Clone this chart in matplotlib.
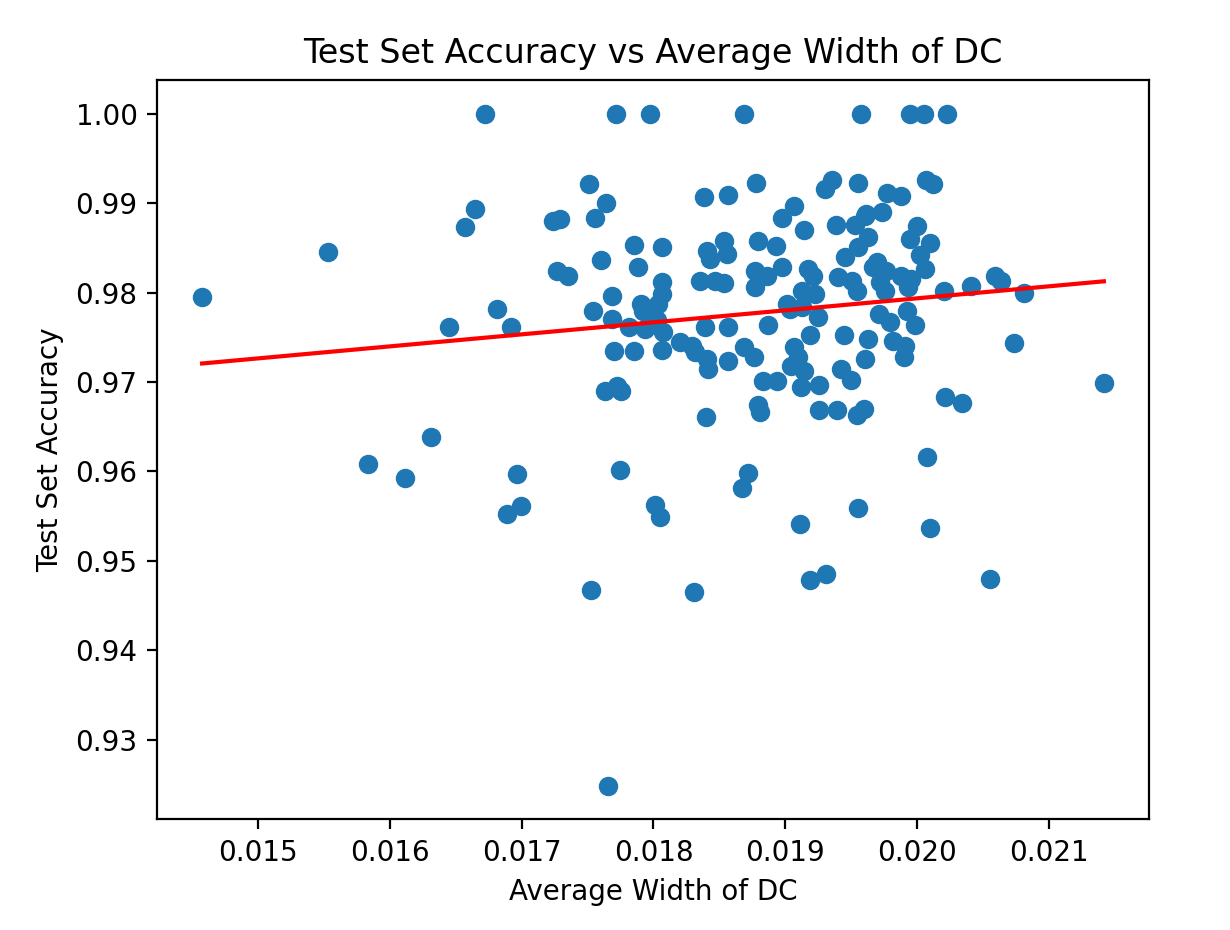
import numpy as np
import matplotlib
matplotlib.use("Agg")
import matplotlib.pyplot as plt

# average width of DC per run
avg_width = [
    0.014576, 0.015528, 0.015831, 0.016119, 0.016316, 0.016447, 0.016573, 0.016649,
    0.016725, 0.016813, 0.016922, 0.016965, 0.016998, 0.016892, 0.017235, 0.017293,
    0.017268, 0.017348, 0.017513, 0.017558, 0.017639, 0.017601, 0.017528, 0.017545,
    0.017684, 0.017684, 0.017697, 0.017652, 0.017634, 0.017722, 0.017755, 0.017743,
    0.017715, 0.017854, 0.017879, 0.017856, 0.017811, 0.017937, 0.017907, 0.017924,
    0.017970, 0.018008, 0.018051, 0.018063, 0.018063, 0.018063, 0.018038, 0.018030,
    0.018070, 0.018066, 0.018202, 0.018290, 0.018316, 0.018404, 0.018417, 0.018399,
    0.018311, 0.018391, 0.018563, 0.018871, 0.018563, 0.018690, 0.018765, 0.018833,
    0.018934, 0.018795, 0.018808, 0.018720, 0.018669, 0.018687, 0.018778, 0.018386,
    0.018563, 0.018404, 0.018538, 0.018556, 0.018430, 0.018353, 0.018467, 0.018538,
    0.018795, 0.018927, 0.018972, 0.018770, 0.018770, 0.018858, 0.019066, 0.018972,
    0.019145, 0.019351, 0.019301, 0.019548, 0.019384, 0.019528, 0.019611, 0.019169,
    0.019212, 0.019124, 0.019225, 0.019010, 0.019250, 0.019452, 0.019553, 0.019629,
    0.019503, 0.019402, 0.019541, 0.019667, 0.019035, 0.019124, 0.019187, 0.019445,
    0.019629, 0.019604, 0.019066, 0.019041, 0.019142, 0.019117, 0.019255, 0.019098,
    0.019422, 0.019498, 0.019255, 0.019389, 0.019541, 0.019598, 0.019111, 0.019548,
    0.019187, 0.019308, 0.019578, 0.019945, 0.020053, 0.020230, 0.020071, 0.020121,
    0.019775, 0.019881, 0.019730, 0.019604, 0.020002, 0.019945, 0.020096, 0.020020,
    0.019699, 0.020058, 0.019767, 0.019881, 0.019957, 0.019717, 0.019755, 0.019932,
    0.020205, 0.020412, 0.020589, 0.020639, 0.020811, 0.019710, 0.019920, 0.019793,
    0.019982, 0.019818, 0.019907, 0.019902, 0.020214, 0.020341, 0.020732, 0.021417,
    0.020078, 0.020096, 0.020551,
]

# test set accuracy per run
test_acc = [
    0.97946, 0.98457, 0.96087, 0.95923, 0.96384, 0.97612, 0.98728, 0.98929,
    1.00000, 0.97813, 0.97619, 0.95975, 0.95610, 0.95521, 0.98795, 0.98821,
    0.98237, 0.98189, 0.99219, 0.98839, 0.98996, 0.98367, 0.94673, 0.97790,
    0.97965, 0.97710, 0.97344, 0.92486, 0.96897, 0.96955, 0.96900, 0.96020,
    1.00000, 0.98531, 0.98285, 0.97344, 0.97612, 0.97594, 0.97873, 0.97798,
    1.00000, 0.95622, 0.95485, 0.98512, 0.98114, 0.97984, 0.97873, 0.97690,
    0.97556, 0.97362, 0.97444, 0.97407, 0.97333, 0.97259, 0.97147, 0.96607,
    0.94654, 0.97612, 0.97612, 0.97635, 0.97232, 0.97388, 0.97277, 0.97009,
    0.97009, 0.96738, 0.96663, 0.95982, 0.95815, 1.00000, 0.99223, 0.99070,
    0.99089, 0.98468, 0.98571, 0.98431, 0.98375, 0.98133, 0.98133, 0.98103,
    0.98579, 0.98523, 0.98281, 0.98244, 0.98058, 0.98189, 0.98970, 0.98839,
    0.98699, 0.99257, 0.99156, 0.99223, 0.98758, 0.98758, 0.98877, 0.98266,
    0.98189, 0.98021, 0.97984, 0.97873, 0.97723, 0.98400, 0.98504, 0.98616,
    0.98133, 0.98170, 0.98021, 0.98281, 0.97817, 0.97835, 0.97527, 0.97527,
    0.97482, 0.97259, 0.97388, 0.97184, 0.97128, 0.96942, 0.96961, 0.97277,
    0.97147, 0.97024, 0.96682, 0.96682, 0.96626, 0.96701, 0.95410, 0.95592,
    0.94785, 0.94852, 1.00000, 1.00000, 1.00000, 1.00000, 0.99257, 0.99212,
    0.99118, 0.99081, 0.98906, 0.98858, 0.98747, 0.98598, 0.98549, 0.98420,
    0.98337, 0.98263, 0.98244, 0.98189, 0.98152, 0.98114, 0.98021, 0.98058,
    0.98021, 0.98077, 0.98189, 0.98133, 0.97991, 0.97765, 0.97790, 0.97667,
    0.97642, 0.97463, 0.97407, 0.97277, 0.96830, 0.96763, 0.97433, 0.96987,
    0.96161, 0.95370, 0.94792,
]

# fitted trend line (ends)
trend_x = [0.014576, 0.021417]
trend_y = [0.97207, 0.98126]

fig = plt.figure(figsize=(6.15, 4.65), dpi=200)
ax = fig.add_axes([157 / 1230, 1 - 819.3 / 930, 992 / 1230, 739.2 / 930])

ax.scatter(avg_width, test_acc)
ax.plot(trend_x, trend_y, color='red')

ax.set_title("Test Set Accuracy vs Average Width of DC")
ax.set_xlabel("Average Width of DC")
ax.set_ylabel("Test Set Accuracy")

fig.savefig("out.png", dpi=200)
